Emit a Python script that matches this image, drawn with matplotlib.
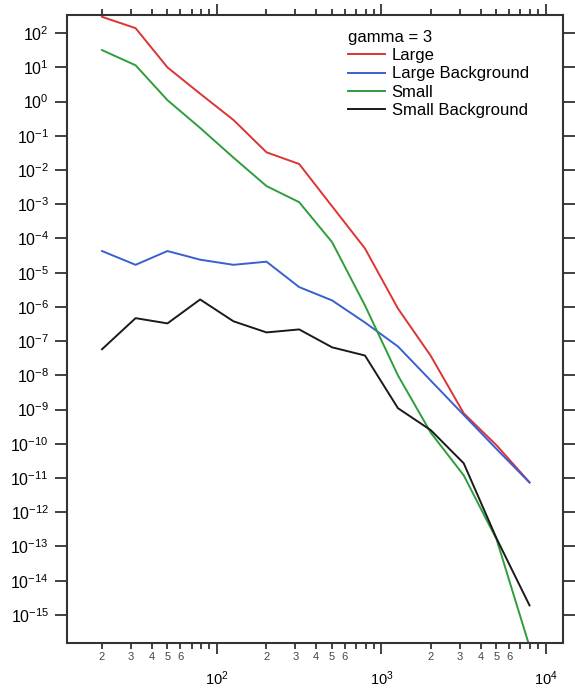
import math
import matplotlib
matplotlib.use("Agg")
import matplotlib.pyplot as plt
from matplotlib.ticker import FuncFormatter, NullLocator, FixedLocator

plt.rcParams['font.family'] = ['Liberation Sans', 'DejaVu Sans']
plt.rcParams['mathtext.fontset'] = 'custom'
plt.rcParams['mathtext.rm'] = 'Liberation Sans'
plt.rcParams['mathtext.it'] = 'Liberation Sans:italic'
plt.rcParams['mathtext.bf'] = 'Liberation Sans:bold'

# data
x = [20, 32, 50, 79, 126, 200, 316, 501, 794, 1259, 1995, 3162, 5012, 7943]
large = [300, 140, 10, 1.7, 0.29, 0.033, 0.015, 8.7e-4, 5.1e-5, 9e-7, 3.7e-8, 7.8e-10, 9e-11, 7.5e-12]
large_bg = [4.3e-5, 1.7e-5, 4.3e-5, 2.4e-5, 1.7e-5, 2.1e-5, 3.8e-6, 1.55e-6, 3.5e-7, 7e-8, 7e-9, 7e-10, 7e-11, 7.4e-12]
small = [32, 11.5, 1.1, 0.17, 0.023, 3.4e-3, 1.15e-3, 7.8e-5, 1.1e-6, 1e-8, 2.1e-10, 1.2e-11, 1.6e-13, 1.2e-16]
small_bg = [5.8e-8, 4.7e-7, 3.3e-7, 1.65e-6, 3.8e-7, 1.8e-7, 2.2e-7, 6.6e-8, 3.8e-8, 1.1e-9, 2.5e-10, 2.7e-11, 1.7e-13, 1.9e-15]

labels = ["Large", "Large Background", "Small", "Small Background"]
colors = ["#dd3333", "#3a5fd0", "#2e9e3a", "#1a1a1a"]

x_major = [100, 1000, 10000]
x_minor = [m * 10 ** e for e in (1, 2, 3) for m in range(2, 10)]
y_major = [10.0 ** e for e in range(-15, 3)]

fig = plt.figure(figsize=(5.75, 6.89), dpi=100)
ax = fig.add_axes([0.1165, 0.0668, 0.979 - 0.1165, 0.978 - 0.0668])

for y, lab, c in zip([large, large_bg, small, small_bg], labels, colors):
    ax.plot(x, y, color=c, lw=1.4, label=lab)

ax.set_xscale('log')
ax.set_yscale('log')
ax.set_xlim(12.25, 12680)
ax.set_ylim(10**-15.82, 10**2.526)

def pow_fmt(v, p):
    return r'$10^{%d}$' % round(math.log10(v))

def minor_fmt(v, p):
    m = round(v / 10 ** math.floor(math.log10(v) + 1e-9))
    return str(m) if m in (2, 3, 4, 5, 6) else ''

ax.xaxis.set_major_locator(FixedLocator(x_major))
ax.xaxis.set_minor_locator(FixedLocator(x_minor))
ax.xaxis.set_major_formatter(FuncFormatter(pow_fmt))
ax.xaxis.set_minor_formatter(FuncFormatter(minor_fmt))

ax.yaxis.set_major_locator(FixedLocator(y_major))
ax.yaxis.set_minor_locator(NullLocator())
ax.yaxis.set_major_formatter(FuncFormatter(pow_fmt))

ax.tick_params(which='both', direction='out', top=True, right=True, width=1.3, color='#333333')
ax.tick_params(axis='y', which='major', length=9, labelsize=11.5, pad=4)
ax.tick_params(axis='x', which='major', length=8, labelsize=10.5, pad=11)
ax.tick_params(axis='x', which='minor', length=4, labelsize=8, pad=2.5, labelcolor='#444444')
for s in ax.spines.values():
    s.set_linewidth(1.5)
    s.set_color('#333333')

leg = ax.legend(loc='upper left', bbox_to_anchor=(0.55, 0.99), frameon=False,
                title='gamma = 3', fontsize=12, title_fontsize=12,
                handlelength=2.2, handletextpad=0.42, labelspacing=0.2, borderpad=0)
leg._legend_box.align = 'left'

fig.savefig('out.png', dpi=100)
